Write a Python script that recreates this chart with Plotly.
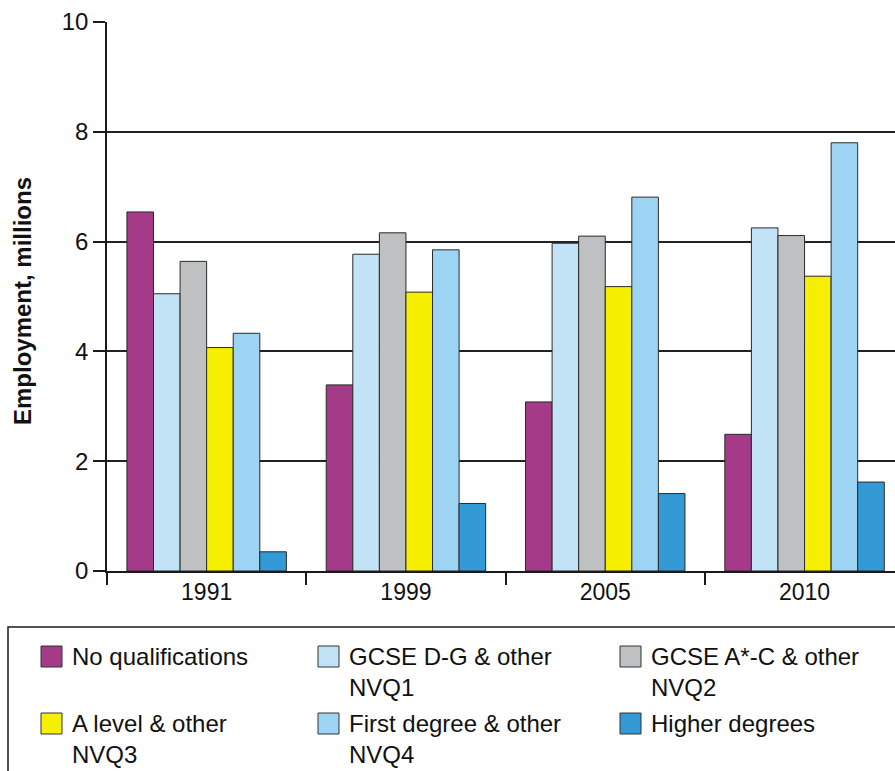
import plotly.graph_objects as go

# data (employment, millions)
years = ["1991", "1999", "2005", "2010"]
series_names = [
    "No qualifications",
    "GCSE D-G & other<br>NVQ1",
    "GCSE A*-C & other<br>NVQ2",
    "A level & other<br>NVQ3",
    "First degree & other<br>NVQ4",
    "Higher degrees",
]
no_qual = [6.54, 3.39, 3.08, 2.49]
gcse_dg = [5.05, 5.77, 5.97, 6.25]
gcse_ac = [5.64, 6.16, 6.10, 6.11]
a_level = [4.07, 5.08, 5.18, 5.37]
first_degree = [4.33, 5.85, 6.81, 7.80]
higher = [0.35, 1.23, 1.41, 1.62]
series_values = [no_qual, gcse_dg, gcse_ac, a_level, first_degree, higher]

colors = ["#A53A89", "#C2E3F6", "#BEC0C2", "#F6EF00", "#9ED4F3", "#339AD6"]

W, H = 895, 771
L, R, T, B = 107, 0, 22, 200
PW, PH = W - L - R, H - T - B


def px(x):
    # window pixel -> paper x
    return (x - L) / PW


def py(y):
    # window pixel -> paper y
    return (H - B - y) / PH


fig = go.Figure()
for name, vals, col in zip(series_names, series_values, colors):
    fig.add_trace(go.Bar(
        x=years, y=vals, name=name, marker_color=col,
        marker_line=dict(color="#2a2a2a", width=1),
    ))

FONT = "Liberation Sans, Arial, sans-serif"

# legend drawn by hand: bordered box, square swatches, two-line labels
shapes = [dict(type="rect", xref="paper", yref="paper",
               x0=px(8), x1=px(905), y0=py(627), y1=py(790),
               line=dict(color="#1a1a1a", width=1.5), fillcolor="rgba(0,0,0,0)")]
annotations = []
col_x = [41, 318, 620]
row_y = [646, 713]
for i, (name, col) in enumerate(zip(series_names, colors)):
    cx = col_x[i % 3]
    ry = row_y[i // 3]
    shapes.append(dict(type="rect", xref="paper", yref="paper",
                       x0=px(cx), x1=px(cx + 21), y0=py(ry), y1=py(ry + 21),
                       line=dict(color="#333333", width=1), fillcolor=col))
    annotations.append(dict(xref="paper", yref="paper", x=px(cx + 29), y=py(ry - 5),
                            xanchor="left", yanchor="top", align="left",
                            text=name, showarrow=False,
                            font=dict(family=FONT, size=24, color="#111111")))

annotations.append(dict(xref="paper", yref="paper", x=px(22), y=py(301),
                        text="<b>Employment, millions</b>", textangle=-90,
                        showarrow=False, xanchor="center", yanchor="middle",
                        font=dict(family=FONT, size=24, color="#111111")))

fig.update_layout(
    width=W, height=H,
    margin=dict(l=L, r=R, t=T, b=B),
    paper_bgcolor="white", plot_bgcolor="white",
    font=dict(family=FONT, size=22, color="#111111"),
    showlegend=False,
    barmode="group", bargap=0.2, bargroupgap=0,
    shapes=shapes, annotations=annotations,
    xaxis=dict(range=[-0.5, -0.5 + PW / 199.3], showline=True, linecolor="#1a1a1a", linewidth=1.5,
               ticks="outside", tickson="boundaries", ticklen=12, tickwidth=1.5,
               tickcolor="#1a1a1a", showgrid=False, tickfont=dict(size=23)),
    yaxis=dict(range=[0, 10], tickvals=[0, 2, 4, 6, 8, 10], showline=True,
               linecolor="#1a1a1a", linewidth=1.5, ticks="outside", ticklen=12,
               tickwidth=1.5, tickcolor="#1a1a1a", showgrid=True, gridcolor="#222222",
               gridwidth=1.5, zeroline=False, tickfont=dict(size=24)),
)

# drop the default body margin so the figure fills the window exactly
fig.write_html("out.html", config={"displayModeBar": False},
               post_script="document.body.style.margin='0';"
                           "document.body.style.overflow='hidden';")
